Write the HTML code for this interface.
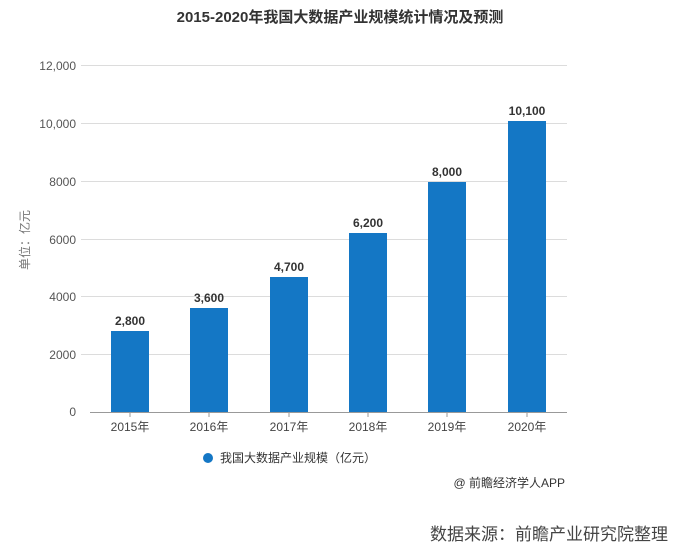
<!DOCTYPE html>
<html><head><meta charset="utf-8"><style>
body{margin:0;background:#fff;}
svg text{font-family:"Liberation Sans","Noto Sans CJK SC",sans-serif;}
</style></head><body>
<svg width="680" height="553" xmlns="http://www.w3.org/2000/svg">
<rect width="680" height="553" fill="#fff"/>
<text x="340" y="22" text-anchor="middle" font-size="15" font-weight="bold" fill="#333">2015-2020年我国大数据产业规模统计情况及预测</text>
<g stroke="#dcdcdc" stroke-width="1">
<line x1="81" y1="65.5" x2="567" y2="65.5"/>
<line x1="81" y1="123.5" x2="567" y2="123.5"/>
<line x1="81" y1="181.5" x2="567" y2="181.5"/>
<line x1="81" y1="239.5" x2="567" y2="239.5"/>
<line x1="81" y1="296.5" x2="567" y2="296.5"/>
<line x1="81" y1="354.5" x2="567" y2="354.5"/>
</g>
<line x1="90" y1="412.5" x2="567" y2="412.5" stroke="#999"/>
<g font-size="12" fill="#555" text-anchor="end">
<text x="76" y="70">12,000</text><text x="76" y="128">10,000</text><text x="76" y="186">8000</text>
<text x="76" y="244">6000</text><text x="76" y="301">4000</text><text x="76" y="359">2000</text><text x="76" y="416">0</text>
</g>
<text transform="translate(29,240) rotate(-90)" text-anchor="middle" font-size="12" fill="#777">单位：亿元</text>
<g fill="#1477c5">
<rect x="111" y="331" width="38" height="81"/>
<rect x="190" y="308" width="38" height="104"/>
<rect x="270" y="277" width="38" height="135"/>
<rect x="349" y="233" width="38" height="179"/>
<rect x="428" y="182" width="38" height="230"/>
<rect x="508" y="121" width="38" height="291"/>
</g>
<g font-size="12" font-weight="bold" fill="#333" text-anchor="middle">
<text x="130" y="325">2,800</text><text x="209" y="302">3,600</text><text x="289" y="271">4,700</text>
<text x="368" y="227">6,200</text><text x="447" y="176">8,000</text><text x="527" y="115">10,100</text>
</g>
<g stroke="#999"><line x1="130" y1="412" x2="130" y2="417"/><line x1="209" y1="412" x2="209" y2="417"/><line x1="289" y1="412" x2="289" y2="417"/><line x1="368" y1="412" x2="368" y2="417"/><line x1="447" y1="412" x2="447" y2="417"/><line x1="527" y1="412" x2="527" y2="417"/></g>
<g font-size="12" fill="#444" text-anchor="middle">
<text x="130" y="431">2015年</text><text x="209" y="431">2016年</text><text x="289" y="431">2017年</text>
<text x="368" y="431">2018年</text><text x="447" y="431">2019年</text><text x="527" y="431">2020年</text>
</g>
<circle cx="208" cy="458" r="5" fill="#1477c5"/>
<text x="220" y="462" font-size="12" fill="#333">我国大数据产业规模（亿元）</text>
<text x="565" y="487" text-anchor="end" font-size="12" fill="#333">@ 前瞻经济学人APP</text>
<text x="668" y="540" text-anchor="end" font-size="17" fill="#444">数据来源：前瞻产业研究院整理</text>
</svg>
</body></html>
